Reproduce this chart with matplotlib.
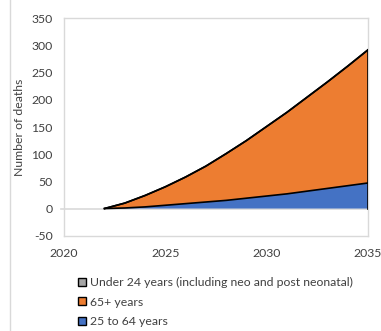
import matplotlib
matplotlib.use("Agg")
import matplotlib.pyplot as plt
from matplotlib.lines import Line2D
from matplotlib.patches import Patch
import numpy as np

plt.rcParams['font.family'] = ['Lato', 'DejaVu Sans']
plt.rcParams['axes.unicode_minus'] = False

years = [2022, 2023, 2024, 2025, 2026, 2027, 2028, 2029, 2030, 2031, 2032, 2033, 2034, 2035]
age_25_64 = [0, 1, 3, 6, 9, 12, 15, 19, 23, 27, 32, 37, 42, 47]
age_65_plus = [0, 9, 21, 34, 49, 66, 86, 106, 128, 150, 173, 196, 220, 245]
under_24 = [0, 0, 0, 0, 0, 0, 0, 0, 0, 0, 0, 0, 0, 0]

series_labels = ["25 to 64 years", "65+ years",
                 "Under 24 years (including neo and post neonatal)"]
colors = ["#4472c4", "#ed7d31", "#a5a5a5"]

x_ticks = [2020, 2025, 2030, 2035]
y_ticks = [-50, 0, 50, 100, 150, 200, 250, 300, 350]

FS = 8.8

fig = plt.figure(figsize=(3.81, 3.31), dpi=100)
ax = fig.add_axes([64 / 381, 1 - 235.7 / 331, 304 / 381, 217.4 / 331])

x = np.array(years)
stack = [np.array(age_25_64), np.array(age_65_plus), np.array(under_24)]
base = np.zeros(len(x))
for vals, col in zip(stack, colors):
    top = base + vals
    ax.fill_between(x, base, top, facecolor=col, edgecolor="none", zorder=2)
    ax.plot(x, top, color="black", lw=1.2, zorder=3)
    base = top
ax.plot([x[-1], x[-1]], [0, base[-1]], color="black", lw=1.2, zorder=3)

# horizontal axis line at zero, with a short stub left of the plot area
zero_line = ax.axhline(0, xmin=-0.01, xmax=1, color="#d9d9d9", lw=1.2, zorder=1)
zero_line.set_clip_on(False)
ax.set_xlim(2020, 2035)
ax.set_ylim(-50, 350)
ax.set_xticks(x_ticks)
ax.set_yticks(y_ticks)
ax.tick_params(axis="y", length=0, labelsize=FS, colors="#404040", pad=8)
ax.tick_params(axis="x", length=0, labelsize=FS, colors="#404040", pad=9)
for s in ax.spines.values():
    s.set_color("#d9d9d9")
    s.set_linewidth(1.0)
ax.set_ylabel("Number of deaths", fontsize=FS, color="#404040", labelpad=5)

fig.add_artist(Line2D([9.5 / 381, 9.5 / 381], [0, 1], color="#d9d9d9", lw=1.0))

handles = [Patch(facecolor=colors[2], edgecolor="black", lw=1),
           Patch(facecolor=colors[1], edgecolor="black", lw=1),
           Patch(facecolor=colors[0], edgecolor="black", lw=1)]
labels = [series_labels[2], series_labels[1], series_labels[0]]
fig.legend(handles, labels, loc="upper left", bbox_to_anchor=(72 / 381, 1 - 271 / 331),
           frameon=False, fontsize=FS, handlelength=0.65, handleheight=0.65,
           handletextpad=0.3, labelspacing=0.7, borderpad=0, labelcolor="#404040")

fig.savefig("out.png", dpi=100)
